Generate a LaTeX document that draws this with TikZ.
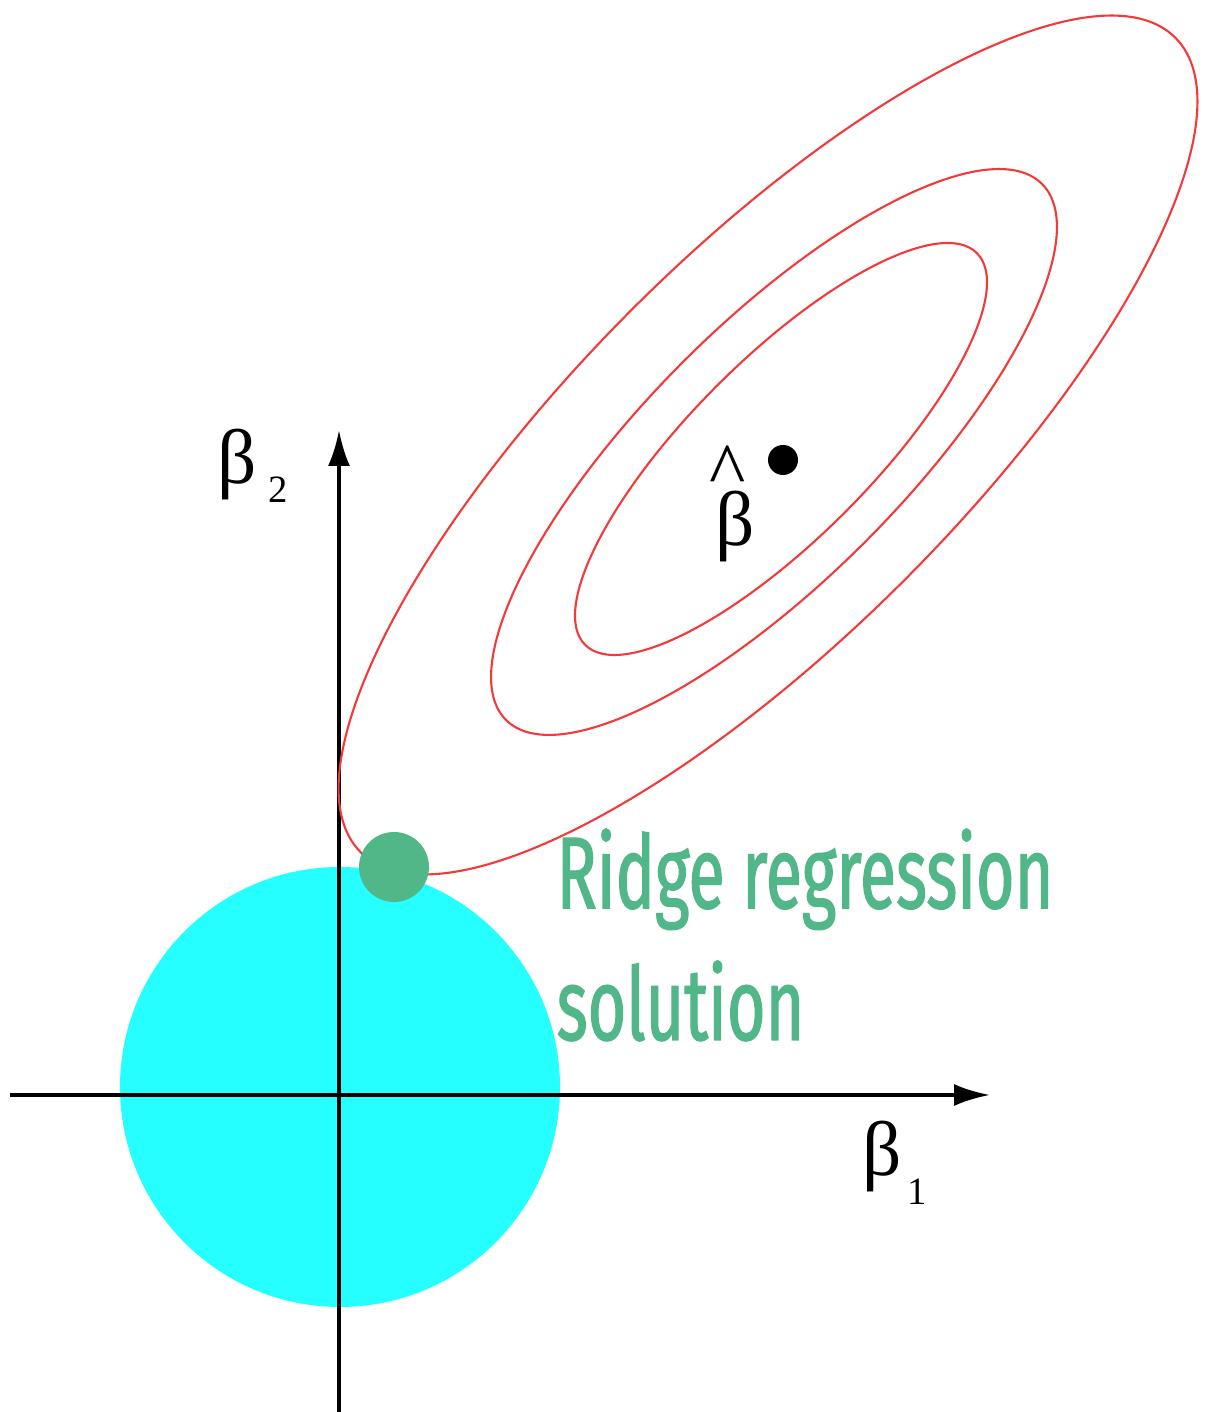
\documentclass[tikz,border=0pt]{standalone}
\usepackage{fontspec}
\setmainfont{Liberation Serif}
\newfontfamily\ridgefont[FakeStretch=0.65,FakeBold=1.2]{Fira Sans}
\usepackage{xcolor}
\definecolor{ballcyan}{HTML}{26FFFF}
\definecolor{ridgegreen}{HTML}{52B788}
\definecolor{rssred}{HTML}{F23A3A}
\usetikzlibrary{arrows.meta,positioning}
\tikzset{
  >={Latex[length=3.6mm,width=2.2mm]},
  axisline/.style={->,line width=1.1pt,black},
  contour/.style={draw=rssred,line width=0.6pt},
  betalbl/.style={font=\fontsize{22}{24}\selectfont,inner sep=0pt},
  ridgelbl/.style={font=\ridgefont\fontsize{29}{37.5}\selectfont,
                   text=ridgegreen,align=left,inner sep=0pt},
}
\newcommand{\sublbl}[1]{{\fontsize{11}{12}\selectfont #1}}

\begin{document}
\begin{tikzpicture}
\useasboundingbox (0,0) rectangle (12.05,14.12);
% constraint region
\fill[ballcyan] (3.40,3.25) circle (2.20);
% axes
\coordinate (xl) at (0.10,3.17);
\coordinate (xr) at (9.90,3.17);
\coordinate (yb) at (3.39,0);
\coordinate (yt) at (3.39,9.82);
\draw[axisline] (xl) -- (xr);
\draw[axisline] (yb) -- (yt);
% RSS contours
\foreach \a/\b/\cx/\cy in {2.77/0.90/7.81/9.63,3.79/1.28/7.74/9.60,5.76/1.92/7.68/9.67}
  \draw[contour,rotate around={45:(\cx,\cy)}] (\cx,\cy) ellipse [x radius=\a,y radius=\b];
% points
\node[circle,fill=ridgegreen,minimum size=7mm,inner sep=0pt] (sol) at (3.94,5.45) {};
\node[circle,fill=black,minimum size=3mm,inner sep=0pt] (bhatpt) at (7.83,9.52) {};
% labels
\node[betalbl,anchor=base west] (b2lbl) at (2.17,9.28)
  {β\kern1.1mm\raisebox{-1.9mm}{\sublbl{2}}};
\node[betalbl,anchor=base west] (b1lbl) at (8.62,2.36)
  {β\kern0.5mm\raisebox{-2.9mm}{\sublbl{1}}};
\node[betalbl,align=center,anchor=base] (bhat) at (7.35,8.66)
  {\textasciicircum\kern1.4mm\\[-3.5mm]β};
\node[ridgelbl,anchor=base west] (ridge) at (5.56,3.72) {Ridge regression\\solution};
\end{tikzpicture}
\end{document}
